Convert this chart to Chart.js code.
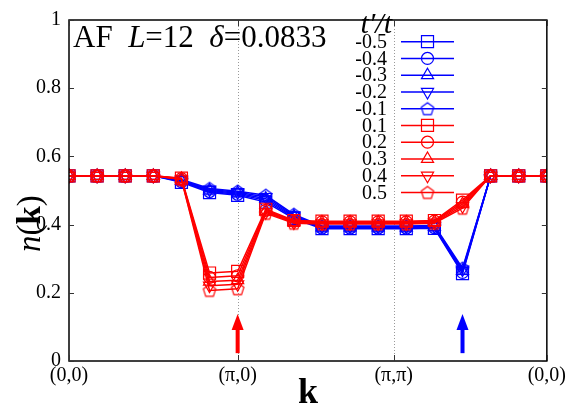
<!DOCTYPE html>
<html>
<head>
<meta charset="utf-8">
<script src="https://cdn.jsdelivr.net/npm/chart.js@4/dist/chart.umd.min.js"></script>
<style>
html,body{margin:0;padding:0;background:#fff;}
canvas{display:block;}
</style>
</head>
<body>
<canvas id="c" width="569" height="408"></canvas>
<script>
// ---- data ----
const kIndex = [0,1,2,3,4,5,6,7,8,9,10,11,12,13,14,15,16,17];
const xTickPos = [0, 6, 11.55, 17];
const xTickLabels = ['(0,0)', '(\u03c0,0)', '(\u03c0,\u03c0)', '(0,0)'];
const yTickLabels = ['0', '0.2', '0.4', '0.6', '0.8', '1'];
const tpLabels = ['-0.5','-0.4','-0.3','-0.2','-0.1','0.1','0.2','0.3','0.4','0.5'];

const nk_m05 = [0.543,0.543,0.543,0.543,0.524,0.494,0.486,0.466,0.418,0.388,0.388,0.388,0.388,0.389,0.256,0.543,0.543,0.543];
const nk_m04 = [0.543,0.543,0.543,0.543,0.526,0.497,0.489,0.471,0.421,0.390,0.390,0.390,0.390,0.391,0.260,0.543,0.543,0.543];
const nk_m03 = [0.543,0.543,0.543,0.543,0.528,0.500,0.492,0.476,0.424,0.392,0.392,0.392,0.392,0.393,0.264,0.543,0.543,0.543];
const nk_m02 = [0.543,0.543,0.543,0.543,0.530,0.503,0.495,0.481,0.427,0.394,0.394,0.394,0.394,0.395,0.268,0.543,0.543,0.543];
const nk_m01 = [0.543,0.543,0.543,0.543,0.532,0.506,0.498,0.486,0.430,0.396,0.396,0.396,0.396,0.397,0.272,0.543,0.543,0.543];
const nk_p01 = [0.543,0.543,0.543,0.543,0.536,0.258,0.263,0.445,0.412,0.410,0.410,0.410,0.410,0.412,0.472,0.543,0.543,0.543];
const nk_p02 = [0.543,0.543,0.543,0.543,0.535,0.245,0.250,0.442,0.410,0.408,0.408,0.408,0.408,0.410,0.466,0.543,0.543,0.543];
const nk_p03 = [0.543,0.543,0.543,0.543,0.534,0.233,0.237,0.439,0.408,0.406,0.406,0.406,0.406,0.408,0.460,0.543,0.543,0.543];
const nk_p04 = [0.543,0.543,0.543,0.543,0.533,0.221,0.225,0.436,0.406,0.404,0.404,0.404,0.404,0.406,0.454,0.543,0.543,0.543];
const nk_p05 = [0.543,0.543,0.543,0.543,0.532,0.207,0.212,0.433,0.404,0.402,0.402,0.402,0.402,0.404,0.448,0.543,0.543,0.543];
const seriesValues = [nk_m05,nk_m04,nk_m03,nk_m02,nk_m01,nk_p01,nk_p02,nk_p03,nk_p04,nk_p05];

const arrowK = [6, 14];
const arrowTip = 0.138, arrowBase = 0.023;

// ---- styles ----
const BLUE = '#0000ff', RED = '#ff0000';
const SERIF = '"Liberation Serif", "DejaVu Serif", serif';
function pentagon(color){
  const c = document.createElement('canvas');
  c.width = 16; c.height = 16;
  const g = c.getContext('2d');
  g.strokeStyle = color; g.lineWidth = 1.2;
  g.beginPath();
  for (let i=0;i<5;i++){
    const a = -Math.PI/2 + i*2*Math.PI/5;
    const px = 8 + 6.5*Math.cos(a), py = 8.6 + 6.5*Math.sin(a);
    if(i===0) g.moveTo(px,py); else g.lineTo(px,py);
  }
  g.closePath(); g.stroke();
  return c;
}
const shapes = [
  {style:'rect', r:8.5, rot:0},
  {style:'circle', r:6, rot:0},
  {style:'triangle', r:7, rot:0},
  {style:'triangle', r:7, rot:180},
  {style:null, r:7, rot:0}
];
const pentBlue = pentagon(BLUE), pentRed = pentagon(RED);

const datasets = seriesValues.map((vals, i) => {
  const color = i < 5 ? BLUE : RED;
  const sh = shapes[i % 5];
  return {
    label: tpLabels[i],
    data: kIndex.map((k, j) => ({x: k, y: vals[j]})),
    borderColor: color,
    backgroundColor: 'rgba(0,0,0,0)',
    borderWidth: 1.5,
    pointStyle: sh.style || (i < 5 ? pentBlue : pentRed),
    pointRadius: sh.r,
    pointRotation: sh.rot,
    pointBorderWidth: 1.2,
    pointBorderColor: color,
    pointBackgroundColor: 'rgba(0,0,0,0)',
    tension: 0,
    order: i < 5 ? 1 : 0
  };
});

function drawMarker(ctx, idx, color, x, y){
  const sh = shapes[idx % 5];
  ctx.save();
  ctx.strokeStyle = color; ctx.lineWidth = 1.2;
  ctx.beginPath();
  if (sh.style === 'rect') {
    const s = Math.SQRT1_2 * sh.r;
    ctx.rect(x - s, y - s, 2*s, 2*s);
    ctx.stroke();
  } else if (sh.style === 'circle') {
    ctx.arc(x, y, sh.r, 0, Math.PI*2); ctx.stroke();
  } else if (sh.style === 'triangle') {
    let a = sh.rot * Math.PI/180;
    ctx.moveTo(x + Math.sin(a)*sh.r, y - Math.cos(a)*sh.r);
    a += 2*Math.PI/3; ctx.lineTo(x + Math.sin(a)*sh.r, y - Math.cos(a)*sh.r);
    a += 2*Math.PI/3; ctx.lineTo(x + Math.sin(a)*sh.r, y - Math.cos(a)*sh.r);
    ctx.closePath(); ctx.stroke();
  } else {
    const img = idx < 5 ? pentBlue : pentRed;
    ctx.drawImage(img, x - img.width/2, y - img.height/2);
  }
  ctx.restore();
}

const decor = {
  id: 'decor',
  beforeDatasetsDraw(chart){
    const {ctx, chartArea:a, scales:{x}} = chart;
    ctx.save();
    ctx.strokeStyle = '#999'; ctx.lineWidth = 1; ctx.setLineDash([1,2]);
    [xTickPos[1], xTickPos[2]].forEach(v => {
      const px = Math.round(x.getPixelForValue(v)) + 0.5;
      ctx.beginPath(); ctx.moveTo(px, a.top); ctx.lineTo(px, a.bottom); ctx.stroke();
    });
    ctx.restore();
  },
  afterDatasetsDraw(chart){
    const {ctx, chartArea:a, scales:{x, y}} = chart;
    ctx.save();
    // frame
    ctx.strokeStyle = '#000'; ctx.lineWidth = 1.5; ctx.setLineDash([]);
    ctx.strokeRect(a.left, a.top, a.right - a.left, a.bottom - a.top);
    // inward ticks
    ctx.lineWidth = 1;
    ctx.strokeStyle = '#333';
    y.ticks.forEach(t => {
      const py = Math.round(y.getPixelForValue(t.value)) + 0.5;
      ctx.beginPath(); ctx.moveTo(a.left, py); ctx.lineTo(a.left + 5, py);
      ctx.moveTo(a.right, py); ctx.lineTo(a.right - 5, py); ctx.stroke();
    });
    xTickPos.forEach(v => {
      const px = Math.round(x.getPixelForValue(v)) + 0.5;
      ctx.beginPath(); ctx.moveTo(px, a.bottom); ctx.lineTo(px, a.bottom - 6);
      ctx.moveTo(px, a.top); ctx.lineTo(px, a.top + 6); ctx.stroke();
    });
    // arrows
    arrowK.forEach((k, i) => {
      const color = i === 0 ? RED : BLUE;
      const px = x.getPixelForValue(k);
      const tip = y.getPixelForValue(arrowTip), base = y.getPixelForValue(arrowBase);
      ctx.fillStyle = color;
      ctx.fillRect(px - 2, tip + 14, 4, base - tip - 14);
      ctx.beginPath();
      ctx.moveTo(px, tip); ctx.lineTo(px - 6, tip + 16); ctx.lineTo(px + 6, tip + 16);
      ctx.closePath(); ctx.fill();
    });
    // annotation
    ctx.fillStyle = '#000';
    ctx.textBaseline = 'alphabetic'; ctx.textAlign = 'left';
    let tx = 73; const ty = 47;
    const seg = (txt, font) => { ctx.font = font; ctx.fillText(txt, tx, ty); tx += ctx.measureText(txt).width; };
    seg('AF  ', '31px ' + SERIF);
    seg('L', 'italic 31px ' + SERIF);
    seg('=12  ', '31px ' + SERIF);
    seg('\u03b4', 'italic 31px ' + SERIF);
    seg('=0.0833', '31px ' + SERIF);
    // legend
    ctx.textAlign = 'right'; ctx.textBaseline = 'alphabetic';
    ctx.font = 'italic 30px ' + SERIF;
    ctx.fillText('t\u2032/t', 392, 33);
    ctx.font = '20px ' + SERIF;
    ctx.textBaseline = 'middle';
    tpLabels.forEach((lab, i) => {
      const ly = 41.7 + i * 16.75;
      const color = i < 5 ? BLUE : RED;
      ctx.fillStyle = '#000';
      ctx.fillText(lab, 387, ly + 1);
      ctx.strokeStyle = color; ctx.lineWidth = 1.5;
      ctx.beginPath(); ctx.moveTo(401, ly); ctx.lineTo(454, ly); ctx.stroke();
      drawMarker(ctx, i, color, 427.5, ly);
    });
    // axis titles
    ctx.fillStyle = '#000';
    ctx.textAlign = 'left'; ctx.textBaseline = 'alphabetic';
    ctx.font = 'bold 36px ' + SERIF;
    ctx.fillText('k', 298, 403);
    ctx.save();
    ctx.translate(40, 252);
    ctx.rotate(-Math.PI/2);
    let ox = 0;
    const yseg = (txt, font) => { ctx.font = font; ctx.fillText(txt, ox, 0); ox += ctx.measureText(txt).width; };
    yseg('n', 'italic 33px ' + SERIF);
    yseg('(', '33px ' + SERIF);
    yseg('k', 'bold 33px ' + SERIF);
    yseg(')', '33px ' + SERIF);
    ctx.restore();
    ctx.restore();
  }
};

new Chart(document.getElementById('c'), {
  type: 'line',
  data: { datasets },
  options: {
    responsive: false,
    animation: false,
    devicePixelRatio: 1,
    layout: { padding: { top: 13, right: 21, left: 0, bottom: 0 } },
    plugins: { legend: { display: false }, tooltip: { enabled: false } },
    scales: {
      x: {
        type: 'linear', min: 0, max: 17,
        afterFit: s => { s.height = 47; },
        afterBuildTicks: s => { s.ticks = xTickPos.map(v => ({ value: v })); },
        ticks: {
          autoSkip: false, maxRotation: 0, padding: 3, color: '#000',
          font: { family: SERIF, size: 20 },
          callback: (v, i) => xTickLabels[i]
        },
        grid: { display: false, drawTicks: false },
        border: { display: false }
      },
      y: {
        min: 0, max: 1,
        afterFit: s => { s.width = 69; },
        ticks: {
          stepSize: 0.2, padding: 8, color: '#000',
          font: { family: SERIF, size: 20 },
          callback: (v, i) => yTickLabels[i]
        },
        grid: { display: false, drawTicks: false },
        border: { display: false }
      }
    }
  },
  plugins: [decor]
});
</script>
</body>
</html>
